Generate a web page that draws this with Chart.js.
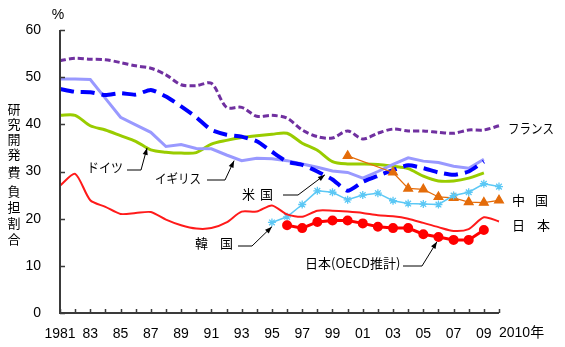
<!DOCTYPE html>
<html>
<head>
<meta charset="utf-8">
<script src="https://cdn.jsdelivr.net/npm/chart.js@4/dist/chart.umd.min.js"></script>
<style>
  html, body { margin: 0; padding: 0; background: #fff; }
  #wrap { width: 565px; height: 347px; }
</style>
</head>
<body>
<div id="wrap"><canvas id="c" width="565" height="347"></canvas></div>
<script>
// Years on the horizontal axis
const years = [];
for (let y = 1981; y <= 2010; y++) years.push(y);

// Share of R&D expenditure borne by government (%)
const france = [53.5, 54.0, 53.8, 53.7, 53.1, 52.4, 51.9, 50.5, 48.4, 48.2,
                48.7, 43.6, 43.6, 41.7, 41.9, 41.3, 38.8, 37.4, 37.1, 38.6,
                36.9, 38.1, 39.0, 38.6, 38.6, 38.3, 38.1, 38.8, 38.8, 39.7];
const usa    = [47.5, 46.9, 46.8, 46.2, 46.6, 46.3, 47.3, 45.9, 43.8, 41.5,
                38.8, 37.8, 37.4, 36.4, 34.2, 32.1, 31.4, 30.0, 28.3, 25.9,
                27.8, 29.1, 30.3, 31.3, 30.7, 29.8, 29.3, 30.0, 32.1, null];
const uk     = [49.6, 49.6, 49.5, 45.5, 41.5, 39.9, 38.3, 35.3, 35.7, 34.9,
                34.8, 33.5, 32.3, 32.8, 32.7, 32.3, 31.6, 30.9, 30.1, 29.8,
                28.6, 30.0, 31.5, 32.9, 32.2, 31.9, 31.1, 30.7, 32.6, null];
const germany = [41.9, 41.9, 39.7, 38.8, 37.6, 36.4, 34.6, 34.1, 33.9, 34.0,
                 35.8, 36.6, 37.2, 37.6, 37.9, 38.1, 36.0, 34.5, 32.1, 31.6,
                 31.6, 31.5, 31.1, 30.6, 29.0, 28.0, 28.0, 28.6, 29.7, null];
const japan  = [27.0, 29.5, 23.9, 22.5, 21.0, 21.2, 21.4, 19.8, 18.6, 17.9,
                18.0, 19.2, 21.5, 21.5, 22.8, 20.9, 20.4, 21.7, 21.7, 21.5,
                21.2, 20.7, 20.5, 20.0, 19.1, 18.2, 17.4, 17.8, 20.3, 19.4];
const japanOecd = [null, null, null, null, null, null, null, null, null, null,
                   null, null, null, null, null, 18.6, 18.0, 19.3, 19.6, 19.6,
                   19.0, 18.3, 18.0, 18.0, 16.7, 16.1, 15.5, 15.5, 17.6, null];
const korea  = [null, null, null, null, null, null, null, null, null, null,
                null, null, null, null, 19.2, 20.4, 23.0, 25.9, 25.6, 24.0,
                25.0, 25.4, 23.8, 23.2, 23.1, 23.0, 24.9, 25.6, 27.4, 26.8];
const china  = [null, null, null, null, null, null, null, null, null, null,
                null, null, null, null, null, null, null, null, null, 33.3,
                null, null, 29.8, 26.4, 26.2, 24.6, 24.4, 23.5, 23.4, 23.9];

const yTicks = [0, 10, 20, 30, 40, 50, 60];
const yTitle = ['研', '究', '開', '発', '費', '負', '担', '割', '合'];

const tickFont = { family: '"Liberation Sans", Arial, "Noto Sans CJK JP"', size: 14 };
const jpFont = '13px "Noto Sans CJK JP", "Liberation Sans", sans-serif';

// Inward tick marks, axis lines and the hand-placed labels
const decor = {
  id: 'decor',
  afterDraw(chart) {
    const ctx = chart.ctx;
    const xs = chart.scales.x, ys = chart.scales.y;
    const ca = chart.chartArea;
    ctx.save();
    // axis lines
    ctx.strokeStyle = '#3a3a3a';
    ctx.lineWidth = 2;
    ctx.beginPath();
    ctx.moveTo(ca.left, ca.top);
    ctx.lineTo(ca.left, ca.bottom);
    ctx.lineTo(ca.right, ca.bottom);
    ctx.stroke();
    // tick marks pointing into the plot
    ctx.lineWidth = 1.5;
    ctx.beginPath();
    years.forEach((yr, i) => {
      const px = Math.round(xs.getPixelForValue(i)) + 0.5;
      ctx.moveTo(px, ca.bottom);
      ctx.lineTo(px, ca.bottom - 4);
    });
    yTicks.forEach(v => {
      const py = Math.round(ys.getPixelForValue(v)) + 0.5;
      ctx.moveTo(ca.left, py);
      ctx.lineTo(ca.left + 5, py);
    });
    ctx.stroke();

    // last year label with its unit
    ctx.fillStyle = '#000';
    ctx.font = '14px "Liberation Sans", Arial, "Noto Sans CJK JP"';
    ctx.textBaseline = 'middle';
    ctx.textAlign = 'left';
    ctx.fillText('2010年', xs.getPixelForValue(years.length - 1), 333);
    // unit on top of the value axis
    ctx.textAlign = 'center';
    ctx.fillText('%', 58, 15);

    // vertical axis title
    ctx.font = jpFont;
    const titleY = [109, 124, 139, 154, 172, 191, 207, 223, 239];
    yTitle.forEach((ch, i) => ctx.fillText(ch, 14, titleY[i]));

    // series names
    ctx.textAlign = 'left';
    const txt = (s, x, y, w) => w ? ctx.fillText(s, x, y, w) : ctx.fillText(s, x, y);
    txt('フランス', 508, 128, 46);
    txt('ドイツ', 87, 167.5, 36);
    txt('イギリス', 155, 178, 46);
    txt('米', 242, 194); txt('国', 260, 194);
    txt('韓', 195, 243.5); txt('国', 220, 243.5);
    txt('日本(OECD推計)', 305, 263, 97);
    txt('中', 512, 200.5); txt('国', 535, 200.5);
    txt('日', 512, 225.5); txt('本', 537, 225.5);

    // leader lines with arrowheads, tips placed in data units
    const pt = (yr, v) => [xs.getPixelForValue(yr - years[0]), ys.getPixelForValue(v)];
    const leader = (x0, x1, y, tip) => {
      const [tx, ty] = tip;
      ctx.strokeStyle = '#000';
      ctx.lineWidth = 1;
      ctx.beginPath();
      ctx.moveTo(x0, y);
      ctx.lineTo(x1, y);
      ctx.lineTo(tx, ty);
      ctx.stroke();
      const a = Math.atan2(ty - y, tx - x1);
      const L = 7, W = 2.6;
      ctx.fillStyle = '#000';
      ctx.beginPath();
      ctx.moveTo(tx, ty);
      ctx.lineTo(tx - L * Math.cos(a) + W * Math.sin(a), ty - L * Math.sin(a) - W * Math.cos(a));
      ctx.lineTo(tx - L * Math.cos(a) - W * Math.sin(a), ty - L * Math.sin(a) + W * Math.cos(a));
      ctx.closePath();
      ctx.fill();
    };
    leader(127, 141, 170, pt(1986.75, 35.0));
    leader(207, 225, 180, pt(1992.5, 32.3));
    leader(283, 298, 195, pt(1998.5, 29.3));
    leader(238, 252, 246, pt(1995.0, 18.3));
    leader(403, 422, 266, pt(2005.9, 15.1));
    ctx.restore();
  }
};

new Chart(document.getElementById('c'), {
  type: 'line',
  data: {
    labels: years,
    datasets: [
      { data: japanOecd, borderColor: '#ff0000', backgroundColor: '#ff0000', borderWidth: 3,
        pointRadius: 3.5, pointStyle: 'circle', tension: 0 },
      { data: japan, borderColor: '#ff1a1a', borderWidth: 2, pointRadius: 0, tension: 0.25 },
      { data: korea, borderColor: '#5cc8f5', backgroundColor: '#5cc8f5', borderWidth: 1.5,
        pointRadius: 4, pointStyle: 'star', pointBorderWidth: 1.3, tension: 0 },
      { data: china, borderColor: '#e46c0a', backgroundColor: '#e46c0a', borderWidth: 1.3,
        pointRadius: 5, pointStyle: 'triangle', spanGaps: true, tension: 0 },
      { data: usa, borderColor: '#0000ff', borderWidth: 4, borderDash: [14, 7],
        pointRadius: 0, tension: 0.2 },
      { data: uk, borderColor: '#9999ff', borderWidth: 3, pointRadius: 0, tension: 0 },
      { data: germany, borderColor: '#99cc00', borderWidth: 3, pointRadius: 0, tension: 0.3 },
      { data: france, borderColor: '#7030a0', borderWidth: 3, borderDash: [6, 3],
        pointRadius: 0, tension: 0.3 }
    ]
  },
  options: {
    responsive: false,
    devicePixelRatio: 1,
    animation: false,
    events: [],
    layout: { padding: { top: 30, right: 66, left: 0, bottom: 0 } },
    plugins: { legend: { display: false }, tooltip: { enabled: false } },
    scales: {
      x: {
        type: 'category',
        offset: false,
        grid: { display: false },
        border: { display: false },
        afterFit: s => { s.height = 34; },
        ticks: {
          autoSkip: false, maxRotation: 0, minRotation: 0, padding: 5,
          color: '#000', font: tickFont,
          callback: function (v, i) {
            const yr = years[i];
            if (yr === 1981) return '1981';
            if (yr % 2 === 1) return String(yr % 100).padStart(2, '0');
            return '';
          }
        }
      },
      y: {
        min: 0, max: 60,
        grid: { display: false },
        border: { display: false },
        afterFit: s => { s.width = 60; },
        afterBuildTicks: s => { s.ticks = yTicks.map(v => ({ value: v })); },
        ticks: { padding: 11, color: '#000', font: tickFont }
      }
    }
  },
  plugins: [decor]
});
</script>
</body>
</html>
